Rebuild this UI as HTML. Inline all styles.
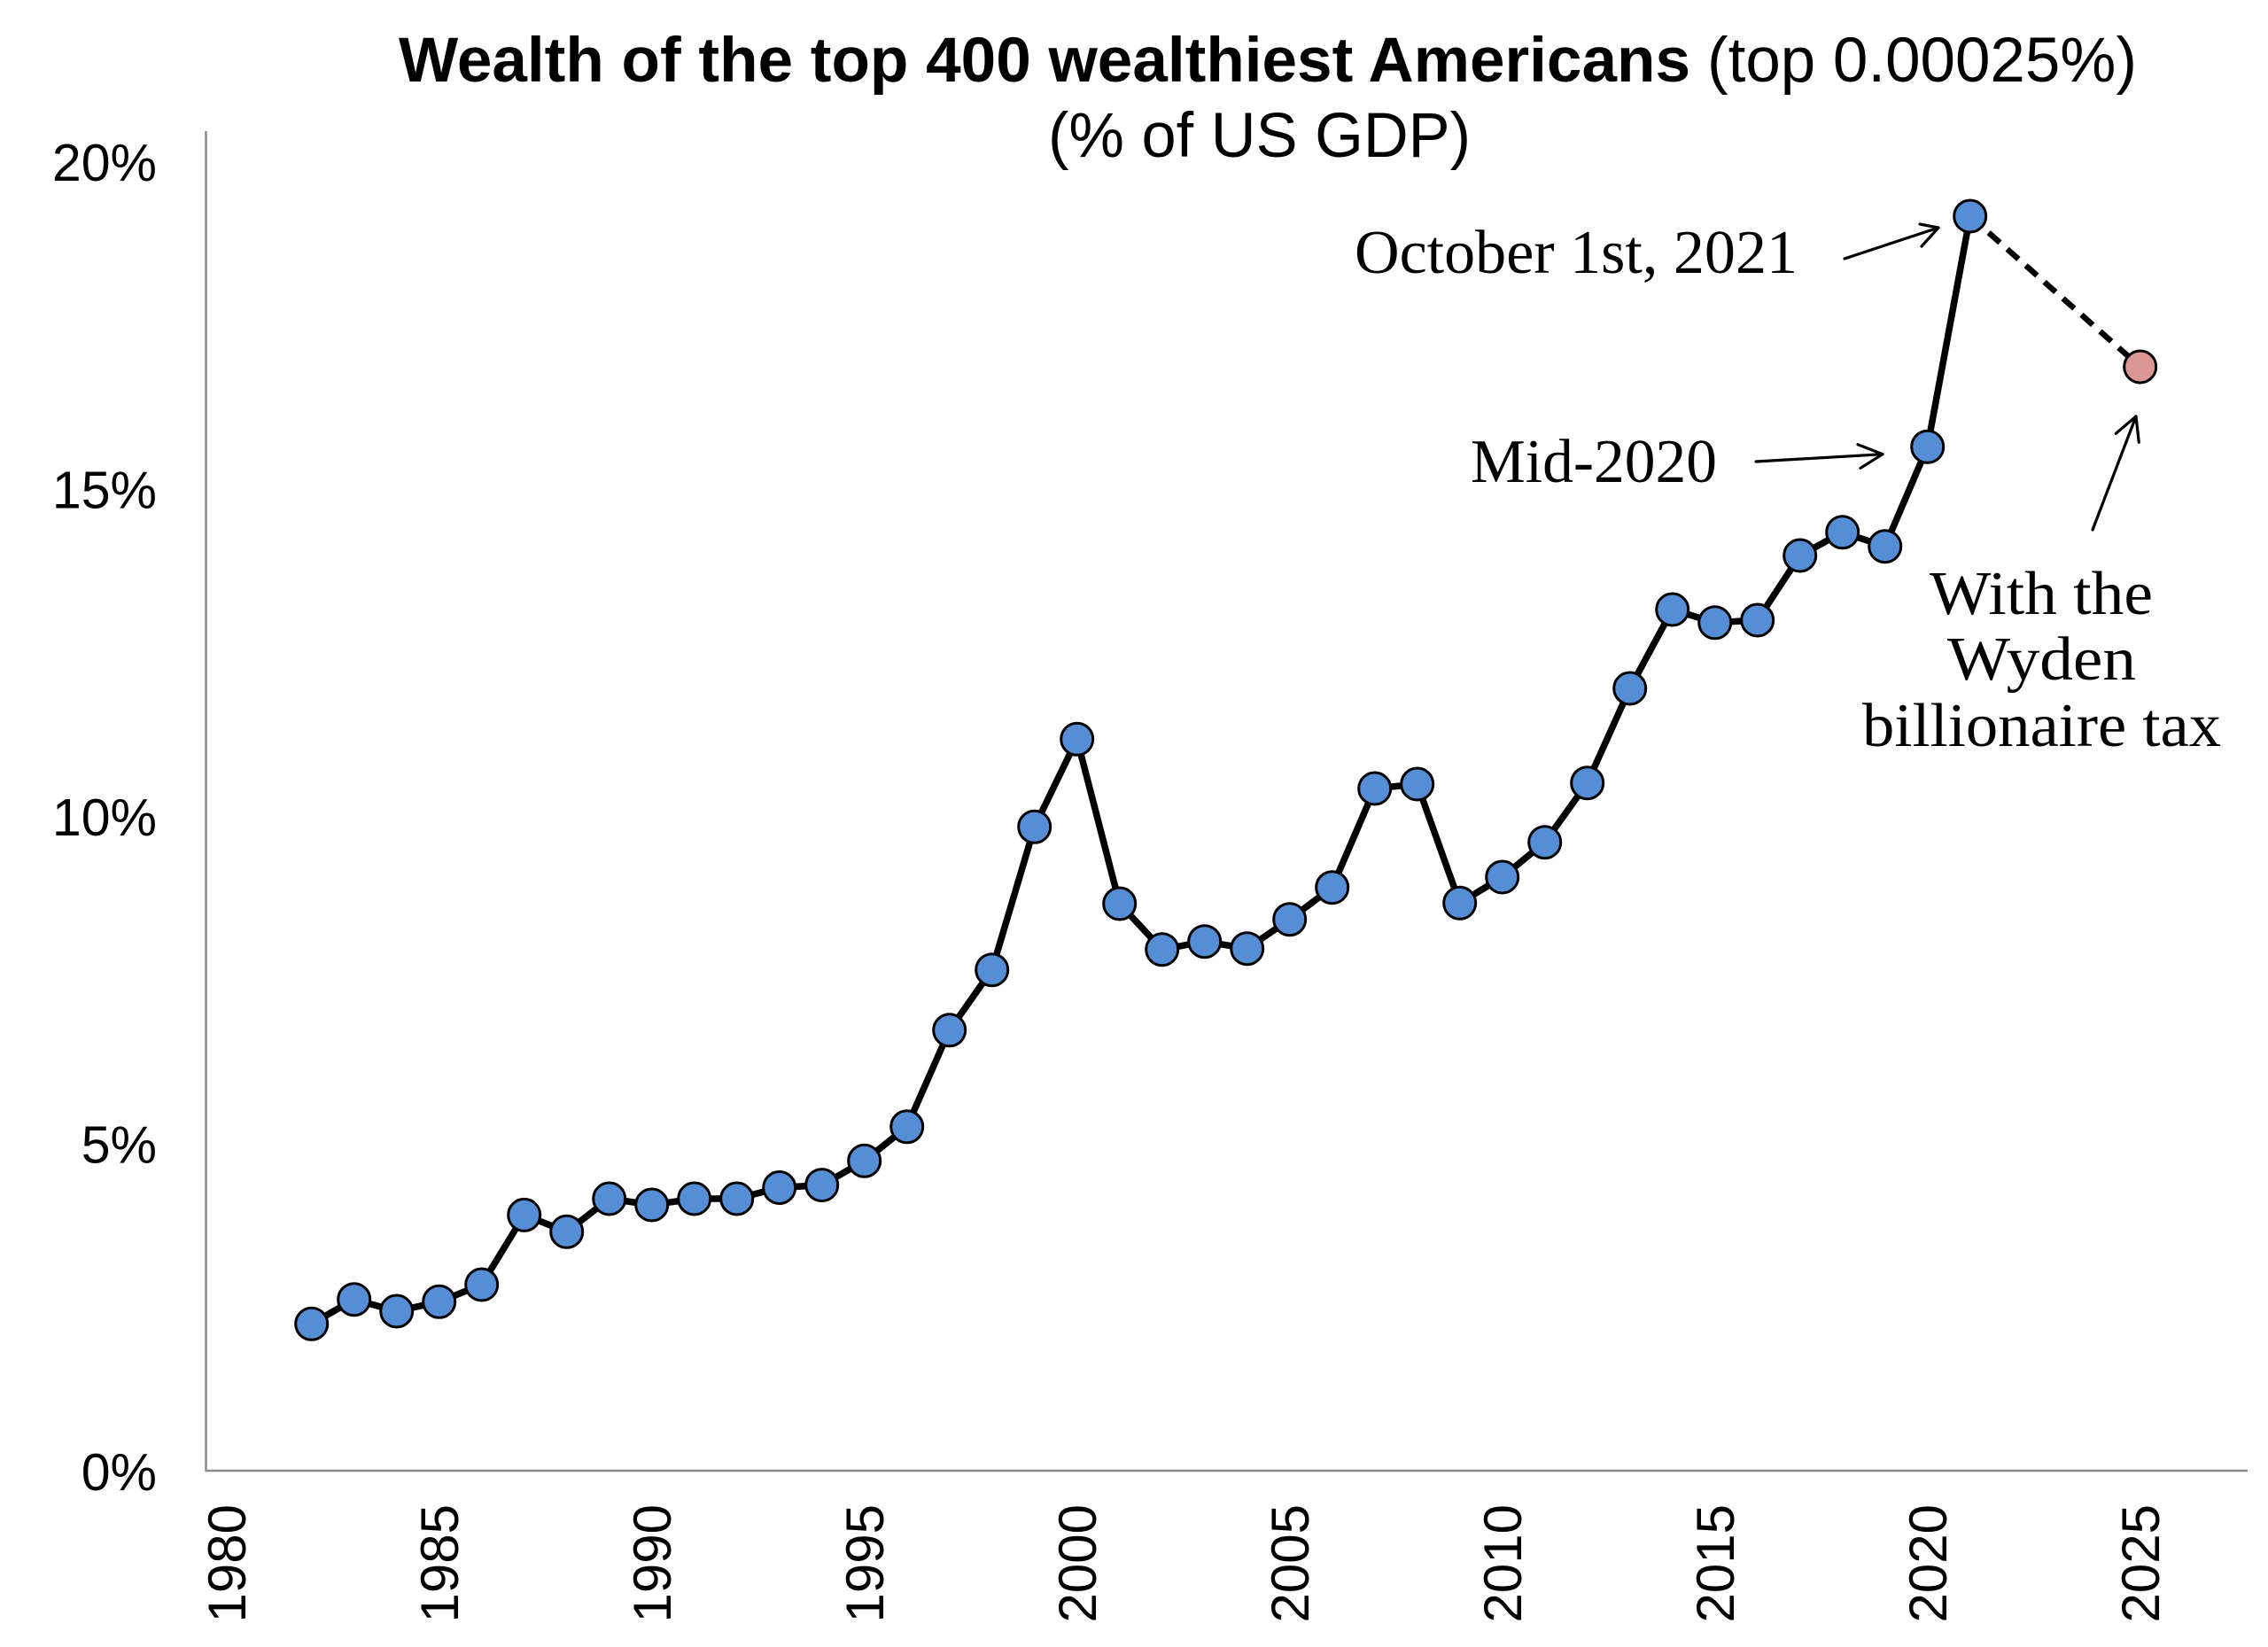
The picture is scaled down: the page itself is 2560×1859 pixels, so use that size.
<!DOCTYPE html>
<html>
<head>
<meta charset="utf-8">
<style>
  html, body { margin:0; padding:0; background:#ffffff; }
  body { width:2560px; height:1859px; overflow:hidden; }
  svg { display:block; }
  .sans { font-family: "Liberation Sans", Arial, Helvetica, sans-serif; }
  .serif { font-family: "Liberation Serif", "Times New Roman", serif; }
</style>
</head>
<body>
<svg width="2560" height="1859" viewBox="0 0 2560 1859" xmlns="http://www.w3.org/2000/svg">
  <rect x="0" y="0" width="2560" height="1859" fill="#ffffff"/>

  <text class="sans" x="450" y="92" font-size="71" font-weight="bold" fill="#000" textLength="1458" lengthAdjust="spacingAndGlyphs">Wealth of the top 400 wealthiest Americans</text>
  <text class="sans" x="1927" y="92" font-size="71" fill="#000" textLength="485" lengthAdjust="spacingAndGlyphs">(top 0.00025%)</text>
  <text class="sans" x="1183" y="177" font-size="71" fill="#000" textLength="477" lengthAdjust="spacingAndGlyphs">(% of US GDP)</text>

  <line x1="232.5" y1="148" x2="232.5" y2="1661" stroke="#8a8a8a" stroke-width="2.5"/>
  <line x1="231.5" y1="1660" x2="2537" y2="1660" stroke="#8a8a8a" stroke-width="2.5"/>

  <g class="sans" font-size="59" fill="#000" text-anchor="end">
    <text x="177" y="204">20%</text>
    <text x="177" y="573.5">15%</text>
    <text x="177" y="943">10%</text>
    <text x="177" y="1312.5">5%</text>
    <text x="177" y="1682">0%</text>
  </g>

  <g class="sans" font-size="60" fill="#000" text-anchor="end">
    <text transform="translate(277,1698) rotate(-90)">1980</text>
    <text transform="translate(517,1698) rotate(-90)">1985</text>
    <text transform="translate(757,1698) rotate(-90)">1990</text>
    <text transform="translate(997,1698) rotate(-90)">1995</text>
    <text transform="translate(1237,1698) rotate(-90)">2000</text>
    <text transform="translate(1477,1698) rotate(-90)">2005</text>
    <text transform="translate(1717,1698) rotate(-90)">2010</text>
    <text transform="translate(1957,1698) rotate(-90)">2015</text>
    <text transform="translate(2197,1698) rotate(-90)">2020</text>
    <text transform="translate(2437,1698) rotate(-90)">2025</text>
  </g>

  <line x1="2223.7" y1="244" x2="2415.7" y2="414" stroke="#000" stroke-width="6.5" stroke-dasharray="17 11"/>

  <polyline fill="none" stroke="#000" stroke-width="7.5" stroke-linejoin="round" points="351.7,1494.3 399.7,1466.7 447.7,1480 495.7,1469.3 543.7,1450 591.7,1371.4 639.7,1390.3 687.7,1353 735.7,1360 783.7,1353 831.7,1353 879.7,1340.5 927.7,1337.6 975.7,1310.3 1023.7,1271.8 1071.7,1162.8 1119.7,1094.7 1167.7,933.3 1215.7,834.3 1263.7,1020 1311.7,1071.7 1359.7,1062.7 1407.7,1070.7 1455.7,1037.7 1503.7,1001.7 1551.7,890 1599.7,885 1647.7,1019.3 1695.7,990 1743.7,950.7 1791.7,883.7 1839.7,777 1887.7,688 1935.7,702.8 1983.7,700 2031.7,627 2079.7,600.8 2127.7,616.7 2175.7,504.3 2223.7,244"/>

  <g fill="#558ed5" stroke="#000" stroke-width="3">
    <circle cx="351.7" cy="1494.3" r="18"/>
    <circle cx="399.7" cy="1466.7" r="18"/>
    <circle cx="447.7" cy="1480" r="18"/>
    <circle cx="495.7" cy="1469.3" r="18"/>
    <circle cx="543.7" cy="1450" r="18"/>
    <circle cx="591.7" cy="1371.4" r="18"/>
    <circle cx="639.7" cy="1390.3" r="18"/>
    <circle cx="687.7" cy="1353" r="18"/>
    <circle cx="735.7" cy="1360" r="18"/>
    <circle cx="783.7" cy="1353" r="18"/>
    <circle cx="831.7" cy="1353" r="18"/>
    <circle cx="879.7" cy="1340.5" r="18"/>
    <circle cx="927.7" cy="1337.6" r="18"/>
    <circle cx="975.7" cy="1310.3" r="18"/>
    <circle cx="1023.7" cy="1271.8" r="18"/>
    <circle cx="1071.7" cy="1162.8" r="18"/>
    <circle cx="1119.7" cy="1094.7" r="18"/>
    <circle cx="1167.7" cy="933.3" r="18"/>
    <circle cx="1215.7" cy="834.3" r="18"/>
    <circle cx="1263.7" cy="1020" r="18"/>
    <circle cx="1311.7" cy="1071.7" r="18"/>
    <circle cx="1359.7" cy="1062.7" r="18"/>
    <circle cx="1407.7" cy="1070.7" r="18"/>
    <circle cx="1455.7" cy="1037.7" r="18"/>
    <circle cx="1503.7" cy="1001.7" r="18"/>
    <circle cx="1551.7" cy="890" r="18"/>
    <circle cx="1599.7" cy="885" r="18"/>
    <circle cx="1647.7" cy="1019.3" r="18"/>
    <circle cx="1695.7" cy="990" r="18"/>
    <circle cx="1743.7" cy="950.7" r="18"/>
    <circle cx="1791.7" cy="883.7" r="18"/>
    <circle cx="1839.7" cy="777" r="18"/>
    <circle cx="1887.7" cy="688" r="18"/>
    <circle cx="1935.7" cy="702.8" r="18"/>
    <circle cx="1983.7" cy="700" r="18"/>
    <circle cx="2031.7" cy="627" r="18"/>
    <circle cx="2079.7" cy="600.8" r="18"/>
    <circle cx="2127.7" cy="616.7" r="18"/>
    <circle cx="2175.7" cy="504.3" r="18"/>
    <circle cx="2223.7" cy="244" r="18"/>
  </g>
  <circle cx="2415.7" cy="414" r="18" fill="#d99694" stroke="#000" stroke-width="3"/>

  <g fill="none" stroke="#000" stroke-width="3.2" stroke-linecap="round" stroke-linejoin="round">
    <line x1="2082" y1="292" x2="2188" y2="257"/>
    <polyline points="2167,253 2188,257 2169,278"/>
    <line x1="1982" y1="521" x2="2125" y2="512.7"/>
    <polyline points="2097,501.7 2125,512.7 2100,528.3"/>
    <line x1="2362" y1="598" x2="2411" y2="470"/>
    <polyline points="2388.3,489.3 2411,470 2414.3,499.3"/>
  </g>

  <g class="serif" font-size="70" fill="#000">
    <text x="1529" y="308" textLength="500" lengthAdjust="spacingAndGlyphs">October 1st, 2021</text>
    <text x="1660" y="544" textLength="278" lengthAdjust="spacingAndGlyphs">Mid-2020</text>
    <text x="2178" y="693" textLength="252" lengthAdjust="spacingAndGlyphs">With the</text>
    <text x="2198" y="767" textLength="213" lengthAdjust="spacingAndGlyphs">Wyden</text>
    <text x="2102" y="842" textLength="405" lengthAdjust="spacingAndGlyphs">billionaire tax</text>
  </g>
</svg>
</body>
</html>
